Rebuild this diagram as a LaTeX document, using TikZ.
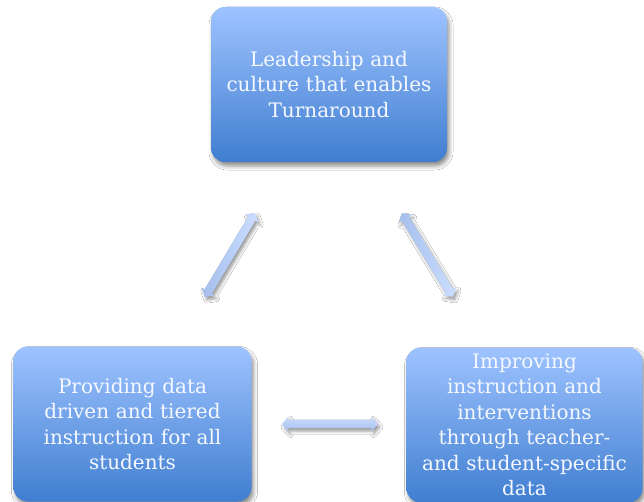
\documentclass[tikz,border=0pt]{standalone}
\usepackage{fontspec}
\setmainfont{DejaVu Serif}
\usetikzlibrary{shapes.arrows,shadows.blur}
\definecolor{boxtop}{RGB}{158,195,255}
\definecolor{boxbot}{RGB}{64,126,208}
\definecolor{arrlight}{RGB}{204,222,255}
\definecolor{arrdark}{RGB}{164,190,236}
\definecolor{txt}{RGB}{245,248,255}
\tikzset{
  stage/.style={draw=none, rounded corners=14pt, top color=boxtop, bottom color=boxbot,
    minimum width=236pt, minimum height=155pt, text width=230pt, align=center, inner sep=0pt,
    text=txt, font=\fontsize{20}{25.5}\selectfont,
    blur shadow={shadow xshift=2pt, shadow yshift=-4pt, shadow blur radius=4pt, shadow opacity=45}},
  link/.style={double arrow, double arrow head extend=3.5pt, double arrow tip angle=100,
    inner xsep=0pt, inner ysep=4pt, draw=none,
    blur shadow={shadow xshift=2pt, shadow yshift=-3pt, shadow blur radius=3pt, shadow opacity=40}}
}
\begin{document}
\begin{tikzpicture}[x=1pt,y=1pt]
\useasboundingbox (0,0) rectangle (644,-502);
\fill[white] (0,0) rectangle (644,-502);
\node[stage] (lead) at (329,-84.5) {Leadership and\\culture that enables\\Turnaround};
\node[stage, minimum width=238pt] (prov) at (132.5,-424) {Providing data\\driven and tiered\\instruction for all\\students};
\node[stage] (impr) at (524.5,-425) {Improving\\instruction and\\interventions\\through teacher-\\and student-specific\\data};
\node[link, minimum height=98pt, rotate=59.2, left color=arrdark, right color=arrlight] (a1) at (230,-255) {};
\node[link, minimum height=98pt, rotate=121.3, left color=arrdark, right color=arrlight] (a2) at (427.5,-255) {};
\node[link, minimum height=96pt, top color=arrlight, bottom color=arrdark] (a3) at (330,-424) {};
\end{tikzpicture}
\end{document}
